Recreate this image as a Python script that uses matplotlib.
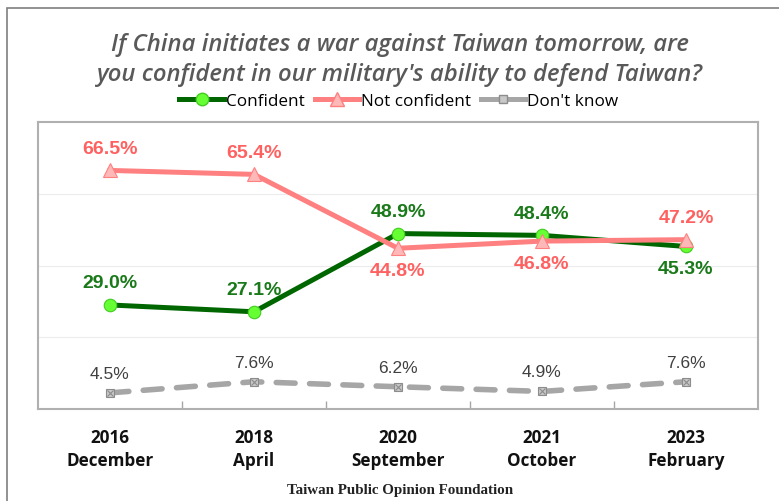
import numpy as np
import matplotlib
matplotlib.use("Agg")
import matplotlib.pyplot as plt
from matplotlib.patches import Rectangle
from matplotlib.lines import Line2D

anios = ["2016", "2018", "2020", "2021", "2023"]
meses = ["December", "April", "September", "October", "February"]
confiado = [29.0, 27.1, 48.9, 48.4, 45.3]
no_confiado = [66.5, 65.4, 44.8, 46.8, 47.2]
no_sabe = [4.5, 7.6, 6.2, 4.9, 7.6]

# posicion de etiqueta: 1 arriba, -1 abajo
pos_confiado = [1, 1, 1, 1, -1]
pos_no_confiado = [1, 1, -1, -1, 1]

VERDE = "#006600"
VERDE_CLARO = "#66ff33"
ROSA = "#ff8080"
ROSA_CLARO = "#ffb8b8"
GRIS = "#a6a6a6"

fig = plt.figure(figsize=(7.79, 5.02), dpi=100)

# marco exterior
fig.patches.append(Rectangle((7 / 779, -0.1), 1.0, 1 - 9 / 502 + 0.1,
                             transform=fig.transFigure, fill=False,
                             edgecolor="#7f7f7f", linewidth=1.2))

ax = fig.add_axes([38 / 779, 92 / 502, 720 / 779, 287 / 502])
x = np.arange(len(anios))

ax.plot(x, no_sabe, color=GRIS, lw=4, dashes=(3.4, 2.6),
        dash_capstyle="round", zorder=2)
ax.plot(x, no_sabe, ls="none", marker="s", ms=6, mfc="#c8c8c8",
        mec="#8c8c8c", mew=0.8, zorder=3)
ax.plot(x, no_sabe, ls="none", marker="x", ms=4.5, mec="#8c8c8c",
        mew=0.8, zorder=4)
ax.plot(x, confiado, color=VERDE, lw=3.6, marker="o", ms=9,
        mfc=VERDE_CLARO, mec="#44cc22", mew=0.8, zorder=5)
ax.plot(x, no_confiado, color=ROSA, lw=3.6, marker="^", ms=10,
        mfc=ROSA_CLARO, mec=ROSA, mew=0.8, zorder=6)

for i in range(len(x)):
    ax.annotate(f"{confiado[i]:.1f}%", (x[i], confiado[i]),
                xytext=(0, 16 * pos_confiado[i]), textcoords="offset points",
                ha="center", va="center", fontsize=14, fontweight="bold",
                color="#1a7a1a", family="Liberation Sans")
    ax.annotate(f"{no_confiado[i]:.1f}%", (x[i], no_confiado[i]),
                xytext=(0, 16 * pos_no_confiado[i]), textcoords="offset points",
                ha="center", va="center", fontsize=14, fontweight="bold",
                color="#ff6161", family="Liberation Sans")
    ax.annotate(f"{no_sabe[i]:.1f}%", (x[i], no_sabe[i]),
                xytext=(0, 14), textcoords="offset points",
                ha="center", va="center", fontsize=12.5,
                color="#404040", family="Liberation Sans")

ax.set_xlim(-0.5, len(x) - 0.5)
ax.set_ylim(0, 80)
ax.set_yticks([20, 40, 60])
ax.set_yticklabels([])
ax.tick_params(axis="y", length=0)
ax.grid(axis="y", color="#ececec", lw=0.8)
ax.set_axisbelow(True)

ax.set_xticks(x)
ax.set_xticklabels([f"{a}\n{m}" for a, m in zip(anios, meses)],
                   fontsize=12.3, fontweight="bold", family="Open Sans",
                   color="#111111", linespacing=1.3)
ax.set_xticks(np.arange(0.5, len(x) - 1, 1), minor=True)
ax.tick_params(axis="x", which="major", length=0, pad=14)
ax.tick_params(axis="x", which="minor", length=6, color="#a6a6a6",
               direction="in", width=1)
for s in ax.spines.values():
    s.set_color("#b0b0b0")
    s.set_linewidth(1.5)

fig.text(0.513, 1 - 45 / 502, "If China initiates a war against Taiwan tomorrow, are",
         ha="center", va="center", fontsize=17.2, style="italic",
         fontweight="semibold", color="#595959", family="Open Sans")
fig.text(0.513, 1 - 75 / 502, "you confident in our military's ability to defend Taiwan?",
         ha="center", va="center", fontsize=17.2, style="italic",
         fontweight="semibold", color="#595959", family="Open Sans")

handles = [
    Line2D([], [], color=VERDE, lw=3.6, marker="o", ms=9, mfc=VERDE_CLARO,
           mec="#44cc22"),
    Line2D([], [], color=ROSA, lw=3.6, marker="^", ms=10, mfc=ROSA_CLARO,
           mec=ROSA),
    Line2D([], [], color=GRIS, lw=3.6, marker="s", ms=6, mfc="#c8c8c8",
           mec="#8c8c8c"),
]
fig.legend(handles, ["Confident", "Not confident", "Don't know"],
           loc="center", bbox_to_anchor=(0.512, 1 - 102 / 502), ncol=3,
           frameon=False, handlelength=2.6, handletextpad=0.1,
           columnspacing=0.6, prop={"family": "Open Sans", "size": 12.3})

fig.text(0.513, 1 - 491 / 502, "Taiwan Public Opinion Foundation",
         ha="center", va="center", fontsize=10.8, fontweight="bold",
         color="#222222", family="Liberation Serif")

fig.savefig("out.png", dpi=100)
